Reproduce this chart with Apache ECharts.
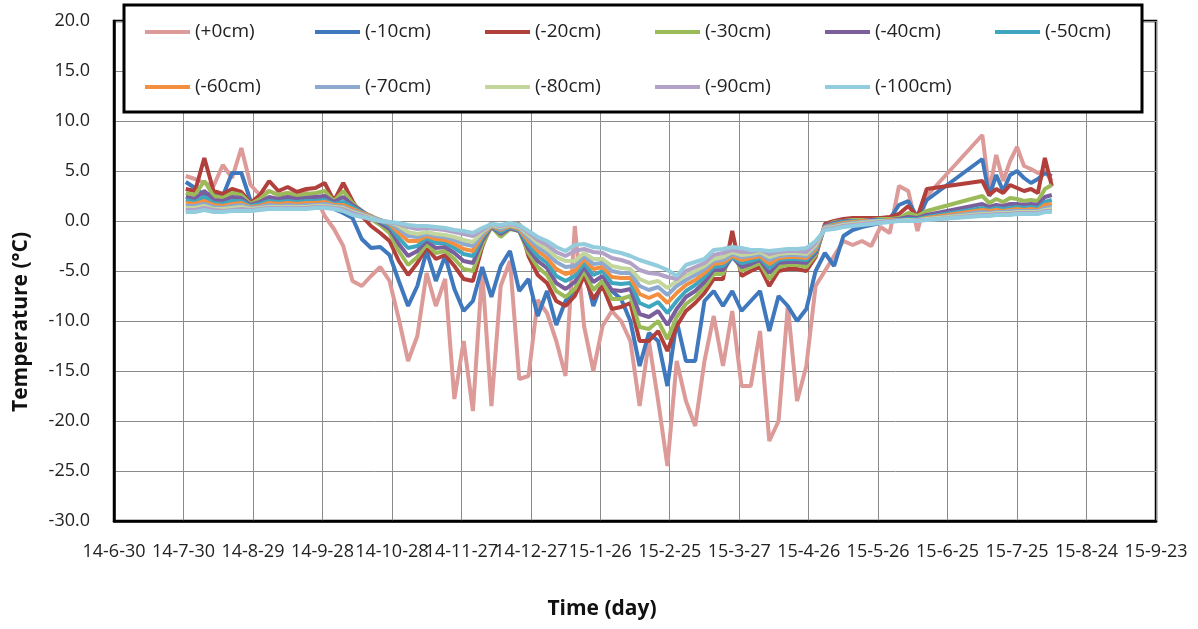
<!DOCTYPE html>
<html>
<head>
<meta charset="utf-8">
<title>Soil temperature</title>
<script src="https://cdn.jsdelivr.net/npm/echarts@6/dist/echarts.min.js"></script>
<style>
  html, body { margin: 0; padding: 0; background: #fff; }
  #chart { width: 1198px; height: 629px; }
</style>
</head>
<body>
<div id="chart"></div>
<script>
// days counted from 14-6-30 (gap in June-July 2015 is in the data)
const startDate = Date.UTC(2014, 5, 30);
const days = [31,35,39,43,47,51,55,59,63,67,71,75,79,83,87,91,95,99,103,107,
  111,115,119,123,127,131,135,139,143,147,151,155,159,163,167,171,175,179,183,187,
  191,195,199,203,207,211,215,219,223,227,231,235,239,243,247,251,255,259,263,267,
  271,275,279,283,287,291,295,299,303,307,311,315,319,323,327,331,335,339,343,347,351,
  375,378,381,384,387,390,393,396,399,402,405];

const names = ['(+0cm)', '(-10cm)', '(-20cm)', '(-30cm)', '(-40cm)', '(-50cm)',
  '(-60cm)', '(-70cm)', '(-80cm)', '(-90cm)', '(-100cm)'];
const colors = ['#dc9a98', '#3f78bd', '#b13f3b', '#9bbb59', '#7a5f9c', '#3fa6c0',
  '#f38f3f', '#8ea9cf', '#c3d69b', '#b3a2c7', '#93cddd'];

const d0 = [4.5,4.2,3.8,3.5,5.6,4.3,7.3,3.6,2.6,3.0,
  2.6,2.8,2.7,2.8,2.5,0.5,-0.8,-2.5,-6.0,-6.5,
  -5.5,-4.6,-6.0,-9.8,-14.0,-11.5,-5.2,-8.5,-5.8,-17.8,
  -12.0,-19.0,-5.0,-18.5,-6.5,-4.0,-15.8,-15.5,-7.9,-9.2,
  -12.0,-15.5,-0.5,-10.5,-15.0,-10.5,-9.0,-10.0,-12.0,-18.5,
  -12.0,-18.0,-24.5,-14.0,-18.0,-20.5,-14.0,-9.5,-14.5,-9.0,
  -16.5,-16.5,-11.0,-22.0,-20.0,-8.5,-18.0,-14.5,-6.5,-5.0,
  -3.5,-2.0,-2.4,-2.0,-2.5,-0.6,-1.2,3.5,3.0,-1.0,2.5,
  8.6,3.0,6.6,4.0,6.0,7.4,5.5,5.2,4.8,5.0,4.0];
const d10 = [3.9,3.3,2.6,2.8,2.5,4.8,4.8,2.0,1.6,2.0,
  2.0,2.2,2.1,2.3,2.0,2.2,1.2,0.8,0.3,-1.8,
  -2.7,-2.6,-3.4,-6.0,-8.5,-6.5,-3.0,-6.0,-3.5,-6.8,
  -9.0,-8.0,-4.6,-7.6,-4.5,-3.0,-7.0,-5.8,-9.5,-7.0,
  -10.4,-8.0,-6.9,-4.8,-8.5,-6.0,-7.0,-7.8,-10.0,-14.5,
  -11.2,-12.0,-16.5,-10.0,-14.0,-14.0,-8.0,-7.0,-8.5,-7.0,
  -9.0,-8.0,-7.0,-11.0,-7.5,-8.5,-10.0,-8.8,-5.0,-3.2,
  -4.5,-1.5,-0.9,-0.6,-0.4,-0.2,0.2,1.6,2.0,0.3,2.1,
  6.2,2.5,4.6,3.0,4.6,5.0,4.3,3.8,4.2,4.8,4.5];
const d20 = [3.2,3.0,6.3,3.0,2.7,3.2,2.9,1.8,2.6,4.0,
  3.0,3.4,2.9,3.2,3.3,3.8,2.0,3.8,2.0,0.5,
  -0.5,-1.2,-2.0,-4.0,-5.4,-4.2,-2.6,-3.8,-3.4,-4.5,
  -5.8,-6.0,-2.6,-0.2,-1.5,-0.6,-0.3,-3.5,-5.4,-6.2,
  -8.0,-8.5,-7.5,-5.5,-7.8,-6.5,-8.8,-8.6,-8.2,-12.0,
  -12.0,-11.0,-13.0,-10.5,-9.0,-8.2,-7.2,-5.8,-5.8,-1.0,
  -5.5,-5.0,-4.6,-6.5,-5.0,-4.8,-4.8,-5.0,-3.6,-0.3,
  0.0,0.2,0.3,0.3,0.3,0.3,0.4,0.7,1.5,0.4,3.2,
  4.0,2.6,3.2,2.8,3.6,3.3,3.0,3.2,2.8,6.3,3.5];
const d30 = [2.8,2.6,4.0,2.5,2.3,2.8,2.6,1.7,2.2,3.0,
  2.6,2.8,2.5,2.7,2.8,3.0,2.0,3.0,1.8,1.0,
  0.2,-0.4,-1.2,-3.0,-4.4,-3.6,-2.3,-3.2,-3.0,-3.8,
  -4.8,-5.0,-2.4,-0.6,-1.6,-0.8,-1.0,-3.2,-4.6,-5.4,
  -7.0,-7.6,-6.8,-5.0,-6.9,-6.0,-7.8,-7.8,-7.5,-10.6,
  -10.8,-10.0,-11.8,-9.6,-8.3,-7.6,-6.6,-5.3,-5.3,-3.0,
  -5.0,-4.6,-4.2,-5.8,-4.6,-4.4,-4.4,-4.6,-3.4,-0.5,
  -0.1,0.0,0.1,0.1,0.1,0.2,0.2,0.3,0.8,0.5,1.0,
  2.5,1.8,2.2,1.9,2.3,2.2,2.0,2.1,2.0,3.2,3.6];
const d40 = [2.4,2.2,3.0,2.1,2.0,2.4,2.3,1.6,1.9,2.4,
  2.2,2.4,2.2,2.3,2.4,2.5,1.9,2.4,1.6,1.0,
  0.4,-0.2,-0.8,-2.3,-3.5,-3.0,-2.0,-2.7,-2.6,-3.2,
  -4.0,-4.2,-2.0,-0.6,-1.3,-0.7,-1.0,-2.8,-4.0,-4.7,
  -6.2,-6.8,-6.1,-4.6,-6.1,-5.5,-6.9,-7.0,-6.8,-9.3,
  -9.6,-9.0,-10.4,-8.8,-7.6,-7.0,-6.1,-4.9,-4.9,-3.6,
  -4.6,-4.3,-3.9,-5.2,-4.2,-4.1,-4.1,-4.2,-3.2,-0.5,
  -0.2,0.0,0.0,0.0,0.1,0.1,0.1,0.2,0.4,0.3,0.6,
  1.7,1.4,1.6,1.5,1.7,1.7,1.6,1.7,1.6,2.4,2.6];
const d50 = [2.1,1.9,2.4,1.8,1.7,2.0,2.0,1.5,1.7,2.0,
  1.9,2.0,1.9,2.0,2.0,2.1,1.7,1.9,1.4,0.9,
  0.5,0.0,-0.5,-1.7,-2.7,-2.5,-1.7,-2.2,-2.2,-2.7,
  -3.3,-3.5,-1.7,-0.5,-1.1,-0.6,-0.9,-2.4,-3.5,-4.2,
  -5.5,-6.0,-5.5,-4.2,-5.4,-5.0,-6.2,-6.3,-6.2,-8.2,
  -8.6,-8.1,-9.2,-8.0,-7.0,-6.4,-5.6,-4.6,-4.5,-3.6,
  -4.2,-4.0,-3.7,-4.7,-3.9,-3.8,-3.8,-3.9,-3.0,-0.6,
  -0.3,-0.1,0.0,0.0,0.0,0.1,0.1,0.1,0.2,0.2,0.4,
  1.3,1.1,1.3,1.2,1.3,1.4,1.3,1.4,1.3,1.9,2.1];
const d60 = [1.8,1.7,2.0,1.6,1.5,1.7,1.8,1.4,1.5,1.8,
  1.7,1.8,1.7,1.8,1.8,1.9,1.6,1.6,1.2,0.8,
  0.5,0.1,-0.3,-1.2,-2.0,-2.0,-1.5,-1.8,-1.9,-2.3,
  -2.8,-3.0,-1.5,-0.5,-0.9,-0.5,-0.8,-2.0,-3.0,-3.7,
  -4.8,-5.3,-5.0,-3.8,-4.8,-4.6,-5.6,-5.7,-5.7,-7.3,
  -7.7,-7.3,-8.2,-7.2,-6.4,-5.9,-5.2,-4.3,-4.2,-3.5,
  -3.9,-3.7,-3.5,-4.3,-3.7,-3.6,-3.6,-3.7,-2.8,-0.6,
  -0.4,-0.2,-0.1,0.0,0.0,0.0,0.1,0.1,0.1,0.1,0.3,
  1.1,1.0,1.1,1.0,1.1,1.2,1.1,1.2,1.1,1.6,1.7];
const d70 = [1.5,1.5,1.7,1.4,1.3,1.5,1.6,1.3,1.4,1.6,
  1.5,1.6,1.5,1.6,1.6,1.7,1.5,1.4,1.0,0.7,
  0.4,0.1,-0.2,-0.8,-1.5,-1.6,-1.3,-1.5,-1.6,-1.9,
  -2.3,-2.5,-1.3,-0.4,-0.8,-0.4,-0.7,-1.7,-2.6,-3.2,
  -4.1,-4.6,-4.5,-3.5,-4.3,-4.2,-5.0,-5.2,-5.2,-6.5,
  -6.9,-6.6,-7.4,-6.5,-5.9,-5.4,-4.8,-4.0,-3.9,-3.3,
  -3.6,-3.5,-3.3,-3.9,-3.5,-3.4,-3.4,-3.5,-2.6,-0.6,
  -0.5,-0.3,-0.2,-0.1,0.0,0.0,0.0,0.1,0.1,0.1,0.2,
  0.9,0.8,0.9,0.9,1.0,1.0,1.0,1.0,1.0,1.3,1.4];
const d80 = [1.3,1.3,1.5,1.2,1.2,1.3,1.4,1.2,1.3,1.4,
  1.4,1.4,1.4,1.4,1.5,1.5,1.4,1.3,0.9,0.6,
  0.3,0.0,-0.1,-0.5,-1.1,-1.3,-1.1,-1.3,-1.4,-1.6,
  -1.9,-2.1,-1.1,-0.4,-0.6,-0.4,-0.6,-1.4,-2.2,-2.8,
  -3.6,-4.0,-4.0,-3.2,-3.8,-3.8,-4.5,-4.7,-4.8,-5.8,
  -6.2,-6.0,-6.7,-6.0,-5.4,-5.0,-4.5,-3.8,-3.6,-3.1,
  -3.4,-3.3,-3.1,-3.6,-3.3,-3.2,-3.2,-3.3,-2.4,-0.7,
  -0.6,-0.4,-0.3,-0.2,-0.1,0.0,0.0,0.0,0.1,0.1,0.2,
  0.7,0.7,0.8,0.8,0.8,0.9,0.9,0.9,0.9,1.1,1.2];
const d90 = [1.1,1.1,1.3,1.1,1.0,1.1,1.2,1.1,1.2,1.3,
  1.3,1.3,1.3,1.3,1.4,1.4,1.3,1.2,0.8,0.5,
  0.2,0.0,-0.1,-0.3,-0.6,-0.8,-0.7,-0.8,-0.9,-1.1,
  -1.3,-1.5,-0.9,-0.3,-0.5,-0.3,-0.5,-1.2,-1.9,-2.4,
  -3.1,-3.5,-3.0,-2.8,-3.1,-3.2,-3.7,-3.9,-4.2,-4.9,
  -5.2,-5.3,-5.6,-5.8,-5.0,-4.6,-4.2,-3.4,-3.2,-2.9,
  -3.1,-3.1,-2.9,-3.3,-3.1,-3.0,-3.0,-3.1,-2.2,-0.8,
  -0.7,-0.5,-0.4,-0.3,-0.2,-0.1,0.0,0.0,0.0,0.1,0.1,
  0.6,0.6,0.7,0.7,0.7,0.8,0.8,0.8,0.8,1.0,1.0];
const d100 = [0.9,0.9,1.1,0.9,0.9,1.0,1.0,1.0,1.1,1.2,
  1.2,1.2,1.2,1.2,1.3,1.3,1.2,1.0,0.6,0.4,
  0.2,0.0,-0.1,-0.2,-0.4,-0.5,-0.5,-0.6,-0.7,-0.9,
  -1.0,-1.2,-0.7,-0.3,-0.4,-0.2,-0.4,-1.0,-1.6,-2.0,
  -2.6,-3.0,-2.4,-2.3,-2.6,-2.7,-3.0,-3.2,-3.5,-3.9,
  -4.2,-4.5,-4.9,-5.5,-4.4,-4.1,-3.8,-2.9,-2.8,-2.6,
  -2.7,-2.9,-2.9,-3.0,-2.9,-2.8,-2.8,-2.7,-2.0,-0.9,
  -0.8,-0.6,-0.5,-0.4,-0.3,-0.2,-0.1,0.0,0.0,0.0,0.1,
  0.5,0.5,0.6,0.6,0.6,0.7,0.7,0.7,0.7,0.9,0.9];

const allSeries = [d0, d10, d20, d30, d40, d50, d60, d70, d80, d90, d100];

const font = '"Open Sans", "Liberation Sans", sans-serif';

function dayLabel(d) {
  const t = new Date(startDate + d * 86400000);
  return (t.getUTCFullYear() % 100) + '-' + (t.getUTCMonth() + 1) + '-' + t.getUTCDate();
}

const chart = echarts.init(document.getElementById('chart'));

const legendBase = {
  icon: 'rect',
  itemWidth: 45,
  itemHeight: 4,
  itemGap: 0,
  padding: 0,
  left: 145,
  orient: 'horizontal',
  textStyle: { fontFamily: font, fontSize: 19, color: '#222', width: 120, lineHeight: 20 }
};

const option = {
  animation: false,
  backgroundColor: '#fff',
  grid: {
    left: 114, right: 42, top: 21, bottom: 108,
    show: true, borderColor: '#000', borderWidth: 2.5
  },
  legend: [
    Object.assign({}, legendBase, { top: 22, data: names.slice(0, 6) }),
    Object.assign({}, legendBase, { top: 77, data: names.slice(6) })
  ],
  graphic: [
    {
      type: 'rect', z: 3, silent: true,
      shape: { x: 124, y: 5, width: 1018, height: 107 },
      style: { fill: '#fff', stroke: '#000', lineWidth: 3 }
    },
    {
      type: 'text', x: 602, y: 609, silent: true,
      style: { text: 'Time (day)', fill: '#111', font: 'bold 21px ' + font, align: 'center', verticalAlign: 'middle' }
    },
    {
      type: 'text', x: 21, y: 322, rotation: Math.PI / 2, silent: true,
      style: { text: 'Temperature (°C)', fill: '#111', font: 'bold 21px ' + font, align: 'center', verticalAlign: 'middle' }
    }
  ],
  xAxis: {
    type: 'value',
    min: 0,
    max: 450,
    interval: 30,
    axisLine: { show: true, onZero: false, lineStyle: { color: '#000', width: 2.5 } },
    axisTick: { show: false },
    splitLine: { show: true, lineStyle: { color: '#8a8a8a', width: 1 } },
    axisLabel: {
      margin: 22, fontFamily: font, fontSize: 18, color: '#222',
      hideOverlap: false, showMinLabel: true, showMaxLabel: true,
      formatter: dayLabel
    }
  },
  yAxis: {
    type: 'value',
    min: -30,
    max: 20,
    interval: 5,
    axisLine: { show: true, onZero: false, lineStyle: { color: '#000', width: 2.5 } },
    axisTick: { show: false },
    splitLine: { show: true, lineStyle: { color: '#8a8a8a', width: 1 } },
    axisLabel: {
      margin: 24, fontFamily: font, fontSize: 18, color: '#222',
      formatter: v => v.toFixed(1)
    }
  },
  series: allSeries.map((vals, k) => ({
    name: names[k],
    type: 'line',
    showSymbol: false,
    color: colors[k],
    lineStyle: { width: 4, color: colors[k] },
    data: days.map((d, i) => [d, vals[i]])
  }))
};

chart.setOption(option);
</script>
</body>
</html>
